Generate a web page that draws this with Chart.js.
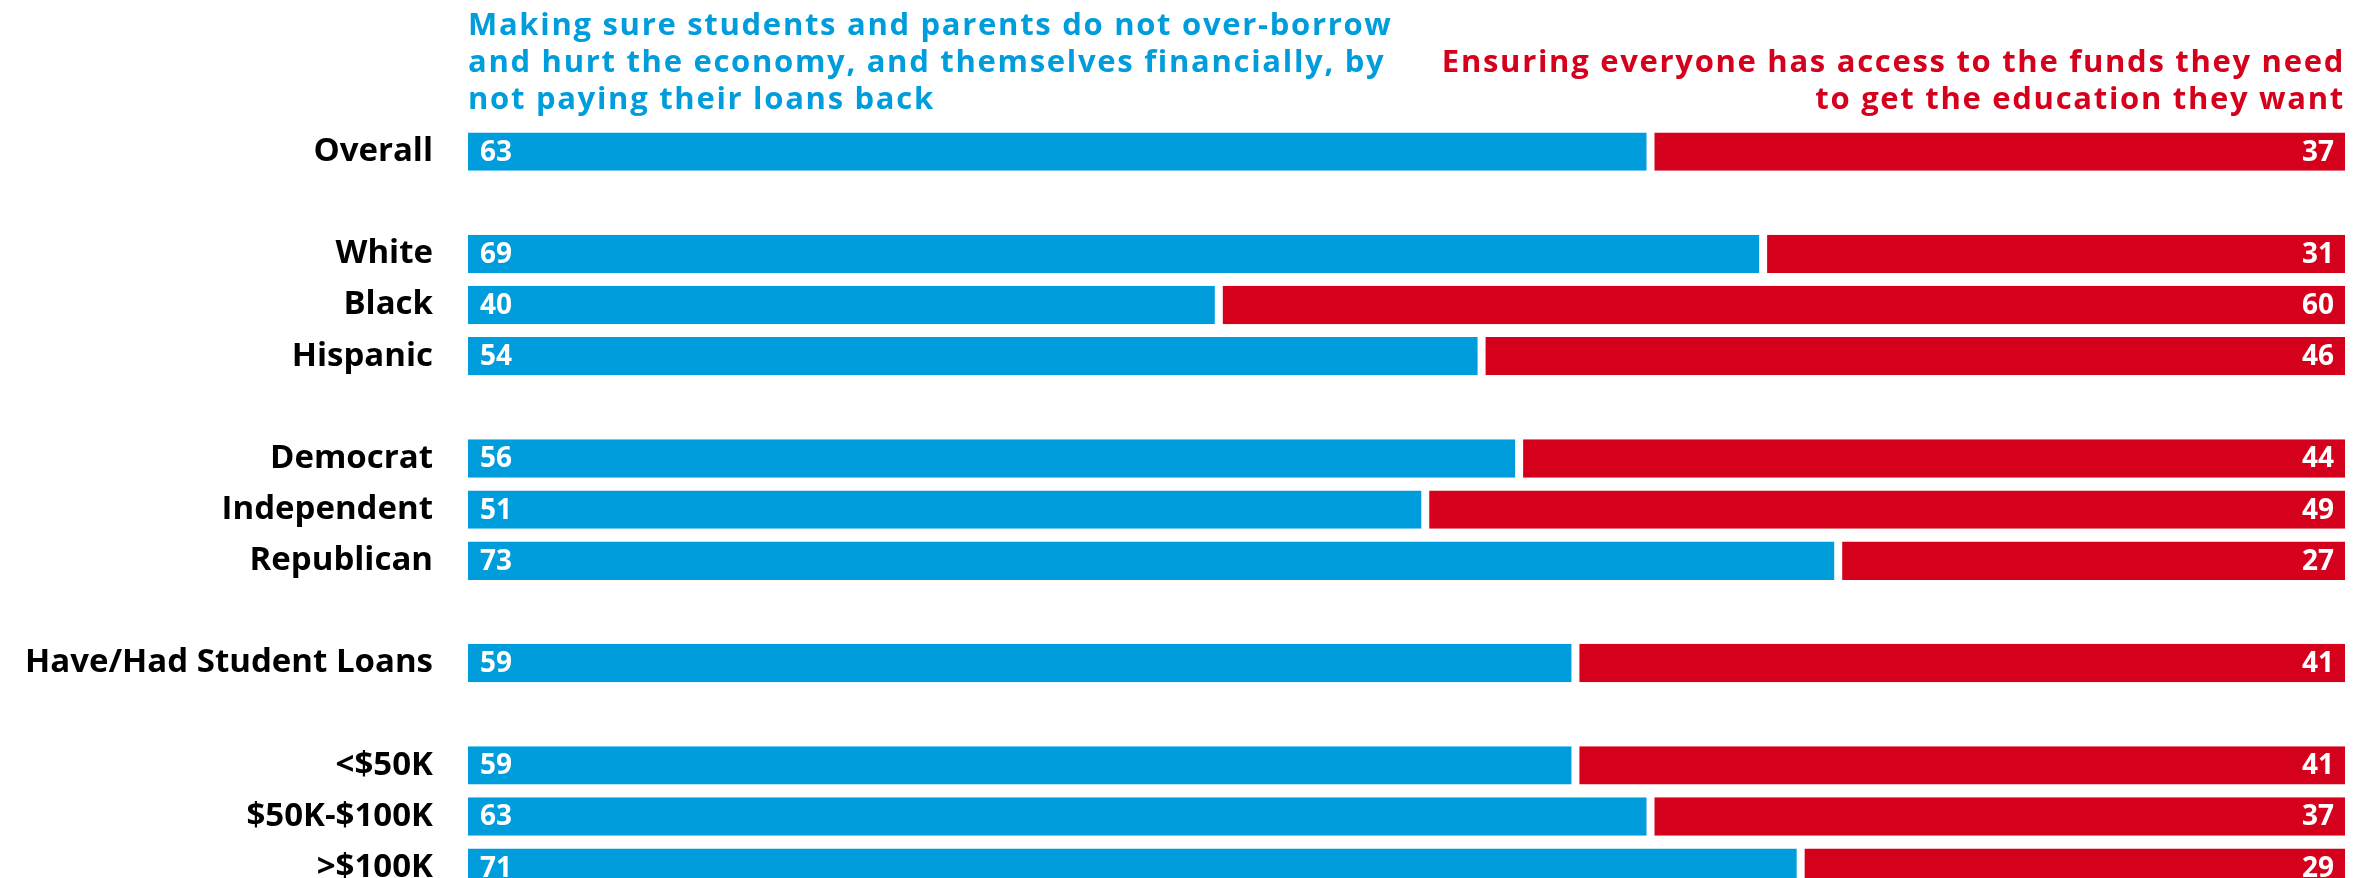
<!DOCTYPE html>
<html>
<head>
<meta charset="utf-8">
<script src="https://cdn.jsdelivr.net/npm/chart.js@4/dist/chart.umd.min.js"></script>
<style>
  html, body { margin: 0; padding: 0; background: #fff; overflow: hidden; }
  #frame { width: 2377px; height: 878px; overflow: hidden; }
  canvas { display: block; }
</style>
</head>
<body>
<div id="frame"><canvas id="loansChart" width="2377" height="940"></canvas></div>
<script>
  // rows of the chart, blank entries are spacer rows between groups
  const categories = ['Overall', '', 'White', 'Black', 'Hispanic', '', 'Democrat', 'Independent', 'Republican', '', 'Have/Had Student Loans', '', '<$50K', '$50K-$100K', '>$100K'];
  const avoidBorrowing = [63, null, 69, 40, 54, null, 56, 51, 73, null, 59, null, 59, 63, 71];
  const ensureAccess = [37, null, 31, 60, 46, null, 44, 49, 27, null, 41, null, 41, 37, 29];

  const blueTitle = ['Making sure students and parents do not over-borrow', 'and hurt the economy, and themselves financially, by', 'not paying their loans back'];
  const redTitle = ['Ensuring everyone has access to the funds they need', 'to get the education they want'];

  const blue = '#009ddd';
  const red = '#d5001c';
  const fontFamily = "'Open Sans', 'Noto Sans', sans-serif";

  // headers above the bars: blue one starts at the left of the bars, red one ends at the right
  const headerPlugin = {
    id: 'headers',
    afterDraw(chart) {
      const { ctx, chartArea } = chart;
      ctx.save();
      ctx.font = `700 31px ${fontFamily}`;
      ctx.letterSpacing = '1.7px';
      ctx.textBaseline = 'middle';
      ctx.fillStyle = blue;
      ctx.textAlign = 'left';
      blueTitle.forEach((line, i) => ctx.fillText(line, chartArea.left, 26 + i * 37));
      ctx.fillStyle = red;
      ctx.textAlign = 'right';
      redTitle.forEach((line, i) => ctx.fillText(line, chartArea.right, 63 + i * 37));
      ctx.restore();
    }
  };

  // white numbers inside each bar
  const valuePlugin = {
    id: 'values',
    afterDatasetsDraw(chart) {
      const { ctx } = chart;
      ctx.save();
      ctx.font = `700 28px ${fontFamily}`;
      ctx.fillStyle = '#fff';
      ctx.textBaseline = 'middle';
      chart.data.datasets.forEach((ds, di) => {
        const meta = chart.getDatasetMeta(di);
        meta.data.forEach((bar, i) => {
          const v = ds.data[i];
          if (v === null) return;
          if (di === 0) {
            ctx.textAlign = 'left';
            ctx.fillText(v, bar.base + 12, bar.y + 1);
          } else {
            ctx.textAlign = 'right';
            ctx.fillText(v, bar.x - 11, bar.y + 1);
          }
        });
      });
      ctx.restore();
    }
  };

  new Chart(document.getElementById('loansChart'), {
    type: 'bar',
    data: {
      labels: categories,
      datasets: [
        {
          label: 'Making sure students and parents do not over-borrow',
          data: avoidBorrowing,
          backgroundColor: blue,
          borderColor: '#fff',
          borderWidth: { top: 0, right: 4, bottom: 0, left: 0 },
          borderSkipped: false
        },
        {
          label: 'Ensuring everyone has access to the funds they need',
          data: ensureAccess,
          backgroundColor: red,
          borderColor: '#fff',
          borderWidth: { top: 0, right: 0, bottom: 0, left: 4 },
          borderSkipped: false
        }
      ]
    },
    options: {
      indexAxis: 'y',
      responsive: false,
      animation: false,
      barPercentage: 0.75,
      categoryPercentage: 1,
      layout: { padding: { top: 126, right: 32, bottom: 0, left: 0 } },
      scales: {
        x: { stacked: true, min: 0, max: 100, display: false },
        y: {
          stacked: true,
          grid: { display: false },
          border: { display: false },
          afterFit(scale) { scale.width = 468; },
          ticks: {
            autoSkip: false,
            padding: 27,
            color: '#000',
            font: { family: fontFamily, size: 33, weight: '700' }
          }
        }
      },
      plugins: {
        legend: { display: false },
        tooltip: { enabled: false }
      }
    },
    plugins: [headerPlugin, valuePlugin]
  });
</script>
</body>
</html>
